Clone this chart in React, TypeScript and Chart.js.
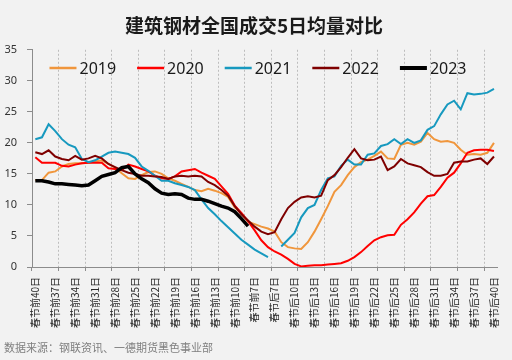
import React, { useEffect, useRef } from 'react';
import { Chart, registerables } from 'chart.js';

Chart.register(...registerables);

const titleText = '建筑钢材全国成交5日均量对比';
const sourceText = '数据来源：钢联资讯、一德期货黑色事业部';

const categories = [
  '春节前40日', '春节前39日', '春节前38日', '春节前37日', '春节前36日', '春节前35日', '春节前34日', '春节前33日',
  '春节前32日', '春节前31日', '春节前30日', '春节前29日', '春节前28日', '春节前27日', '春节前26日', '春节前25日',
  '春节前24日', '春节前23日', '春节前22日', '春节前21日', '春节前20日', '春节前19日', '春节前18日', '春节前17日',
  '春节前16日', '春节前15日', '春节前14日', '春节前13日', '春节前12日', '春节前11日', '春节前10日', '春节前9日',
  '春节前8日', '春节前7日', '春节前6日', '春节前5日',
  '春节后7日', '春节后8日', '春节后9日', '春节后10日', '春节后11日', '春节后12日', '春节后13日', '春节后14日',
  '春节后15日', '春节后16日', '春节后17日', '春节后18日', '春节后19日', '春节后20日', '春节后21日', '春节后22日',
  '春节后23日', '春节后24日', '春节后25日', '春节后26日', '春节后27日', '春节后28日', '春节后29日', '春节后30日',
  '春节后31日', '春节后32日', '春节后33日', '春节后34日', '春节后35日', '春节后36日', '春节后37日', '春节后38日',
  '春节后39日', '春节后40日',
];

const yTicks = [0, 5, 10, 15, 20, 25, 30, 35];

const s2019 = [
  14.0, 14.0, 15.2, 15.4, 16.2, 16.6, 16.7, 16.7, 16.8, 17.0,
  17.2, 16.6, 16.0, 15.1, 14.3, 14.2, 14.8, 15.3, 15.4, 15.0,
  14.3, 13.9, 13.4, 12.9, 12.4, 12.2, 12.6, 12.3, 11.9, 11.3,
  9.6, 8.6, 7.3, 6.9, 6.5, 6.2, 5.7, 4.0, 3.2, 3.0,
  2.9, 4.0, 5.7, 7.7, 9.8, 12.1, 13.2, 14.8, 16.1, 16.9,
  17.3, 17.9, 18.6, 17.5, 17.4, 19.7, 20.0, 19.7, 20.2, 21.6,
  20.6, 20.2, 20.3, 20.0, 18.9, 18.1, 18.2, 18.1, 18.4, 20.0,
];

const s2020 = [
  17.7, 16.8, 16.8, 16.8, 16.3, 16.2, 16.5, 16.7, 16.8, 16.8,
  16.8, 15.9, 15.8, 15.6, 16.5, 16.2, 15.8, 15.4, 14.7, 14.3,
  14.2, 14.6, 15.4, 15.6, 15.8, 15.2, 14.7, 14.2, 13.0, 11.8,
  9.9, 8.7, 7.4, 5.9, 4.3, 3.2, 2.5, 2.0, 1.3, 0.5,
  0.1, 0.2, 0.3, 0.3, 0.4, 0.5, 0.6, 1.0, 1.6, 2.4,
  3.4, 4.3, 4.8, 5.1, 5.2, 6.8, 7.7, 8.8, 10.2, 11.4,
  11.6, 12.9, 14.4, 15.2, 16.7, 18.4, 18.8, 18.9, 18.9, 18.7,
];

const s2021 = [
  20.6, 20.9, 23.0, 21.9, 20.6, 19.7, 19.3, 17.4, 16.9, 17.2,
  17.8, 18.4, 18.6, 18.4, 18.2, 17.6, 16.2, 15.5, 14.7, 13.9,
  13.9, 13.5, 13.2, 12.9, 12.4, 10.9, 9.5, 8.5, 7.4, 6.4,
  5.4, 4.4, 3.6, 2.8, 2.2, 1.6, null, 3.3, 4.4, 5.5,
  8.0, 9.5, 10.0, 12.4, 14.3, 14.6, 16.3, 17.3, 16.5, 16.5,
  18.1, 18.3, 19.5, 19.8, 20.6, 19.8, 20.6, 20.0, 20.4, 22.1,
  22.7, 24.6, 26.2, 26.8, 25.4, 28.0, 27.8, 27.9, 28.1, 28.7,
];

const s2022 = [
  18.5, 18.2, 18.8, 17.8, 17.4, 17.2, 17.9, 17.3, 17.5, 17.9,
  17.5, 16.6, 16.1, 15.6, 15.2, 15.0, 14.7, 14.7, 14.6, 14.5,
  14.2, 14.6, 14.7, 14.6, 14.7, 14.6, 13.7, 13.2, 12.4, 11.5,
  9.8, 8.5, 7.5, 6.5, 5.7, 5.3, 5.6, 7.7, 9.5, 10.5,
  11.2, 11.4, 11.2, 11.5, 14.0, 14.8, 16.1, 17.6, 19.0, 17.5,
  17.2, 17.3, 17.8, 15.6, 16.2, 17.4, 16.7, 16.4, 16.1, 15.3,
  14.7, 14.7, 15.0, 16.8, 17.0, 17.0, 17.3, 17.5, 16.6, 17.8,
];

const s2023 = [
  13.9, 13.9, 13.7, 13.4, 13.4, 13.3, 13.2, 13.1, 13.2, 13.9,
  14.6, 14.9, 15.2, 16.0, 16.2, 15.0, 14.2, 13.6, 12.6, 11.9,
  11.7, 11.8, 11.7, 11.1, 10.9, 10.9, 10.6, 10.2, 9.8, 9.5,
  8.9, 7.8, 6.6,
];

const seriesNames = ['2019', '2020', '2021', '2022', '2023'];
const seriesColors = ['#F0963C', '#FF0000', '#1799BF', '#7F0000', '#000000'];
const seriesWidths = [2, 2, 2, 2, 3.5];
const seriesData = [s2019, s2020, s2021, s2022, s2023];

const CJK = '"Noto Sans CJK SC", "Noto Sans", sans-serif';

const overlayPlugin = {
  id: 'overlayText',
  afterDraw(chart: any) {
    const ctx = chart.ctx;
    ctx.save();
    // legend
    ctx.font = '16px "Noto Sans", sans-serif';
    const lineW = 27;
    const gapLT = 3;
    const gapItems = 21;
    const widths = seriesNames.map((n) => lineW + gapLT + ctx.measureText(n).width);
    const total = widths.reduce((a, b) => a + b, 0) + gapItems * (seriesNames.length - 1);
    let x = 258 - total / 2;
    const y = 68;
    seriesNames.forEach((n, i) => {
      ctx.beginPath();
      ctx.strokeStyle = seriesColors[i];
      ctx.lineWidth = seriesWidths[i] + 0.5;
      ctx.moveTo(x, y);
      ctx.lineTo(x + lineW, y);
      ctx.stroke();
      ctx.fillStyle = '#1a1a1a';
      ctx.textBaseline = 'middle';
      ctx.textAlign = 'left';
      ctx.fillText(n, x + lineW + gapLT, y + 1);
      x += widths[i] + gapItems;
    });
    // source
    ctx.font = '11px ' + CJK;
    ctx.fillStyle = '#7f7f7f';
    ctx.textBaseline = 'middle';
    ctx.textAlign = 'left';
    ctx.fillText(sourceText, 4, 348);
    ctx.restore();
  },
};

export default function App() {
  const canvasRef = useRef<HTMLCanvasElement | null>(null);

  useEffect(() => {
    if (!canvasRef.current) return;
    Chart.defaults.font.family = CJK;
    const datasets = seriesNames.map((name, i) => ({
      label: name,
      data: seriesData[i],
      borderColor: seriesColors[i],
      backgroundColor: seriesColors[i],
      borderWidth: seriesWidths[i],
      pointRadius: 0,
      pointHoverRadius: 0,
      tension: 0,
      fill: false,
      spanGaps: false,
      order: seriesNames.length - i,
    }));
    const chart = new Chart(canvasRef.current, {
      type: 'line',
      data: { labels: categories, datasets },
      plugins: [overlayPlugin],
      options: {
        animation: false,
        responsive: false,
        devicePixelRatio: 1,
        layout: { padding: { left: 0, right: 4, top: 0, bottom: 0 } },
        plugins: {
          legend: { display: false },
          tooltip: { enabled: false },
          title: {
            display: true,
            text: titleText,
            color: '#1a1a1a',
            font: { size: 19, weight: 'bold', family: CJK },
            padding: { top: 14, bottom: 13 },
          },
        },
        scales: {
          x: {
            type: 'category',
            offset: true,
            afterFit: (s: any) => {
              s.height = 93;
            },
            grid: {
              offset: true,
              drawOnChartArea: true,
              color: (c: any) => (c.index > 0 && c.index % 4 === 0 ? '#bdbdbd' : 'rgba(0,0,0,0)'),
              tickColor: (c: any) => (c.index % 4 === 0 ? '#8c8c8c' : 'rgba(0,0,0,0)'),
              tickLength: 4,
              lineWidth: 1,
            },
            border: { display: true, color: '#8c8c8c', width: 1, dash: [2, 2] },
            ticks: {
              autoSkip: false,
              maxRotation: 90,
              minRotation: 90,
              padding: 6,
              color: '#262626',
              font: { size: 10, family: CJK },
              callback: (_v: any, idx: number) => (idx % 3 === 0 ? categories[idx] : ''),
            },
          },
          y: {
            min: yTicks[0],
            max: yTicks[yTicks.length - 1],
            afterFit: (s: any) => {
              s.width = 32;
            },
            afterBuildTicks: (s: any) => {
              s.ticks = yTicks.map((v) => ({ value: v }));
            },
            grid: {
              drawOnChartArea: false,
              drawTicks: true,
              tickLength: 5,
              tickColor: '#8c8c8c',
            },
            border: { display: true, color: '#8c8c8c', width: 1 },
            ticks: {
              padding: 10,
              color: '#333333',
              font: { size: 11, family: '"Noto Sans", sans-serif' },
            },
          },
        },
      },
    } as any);
    return () => chart.destroy();
  }, []);

  return (
    <div
      style={{
        position: 'fixed',
        left: 0,
        top: 0,
        width: 512,
        height: 360,
        background: '#f2f2f2',
      }}
    >
      <canvas ref={canvasRef} width={512} height={360} style={{ display: 'block', width: 512, height: 360 }} />
    </div>
  );
}
